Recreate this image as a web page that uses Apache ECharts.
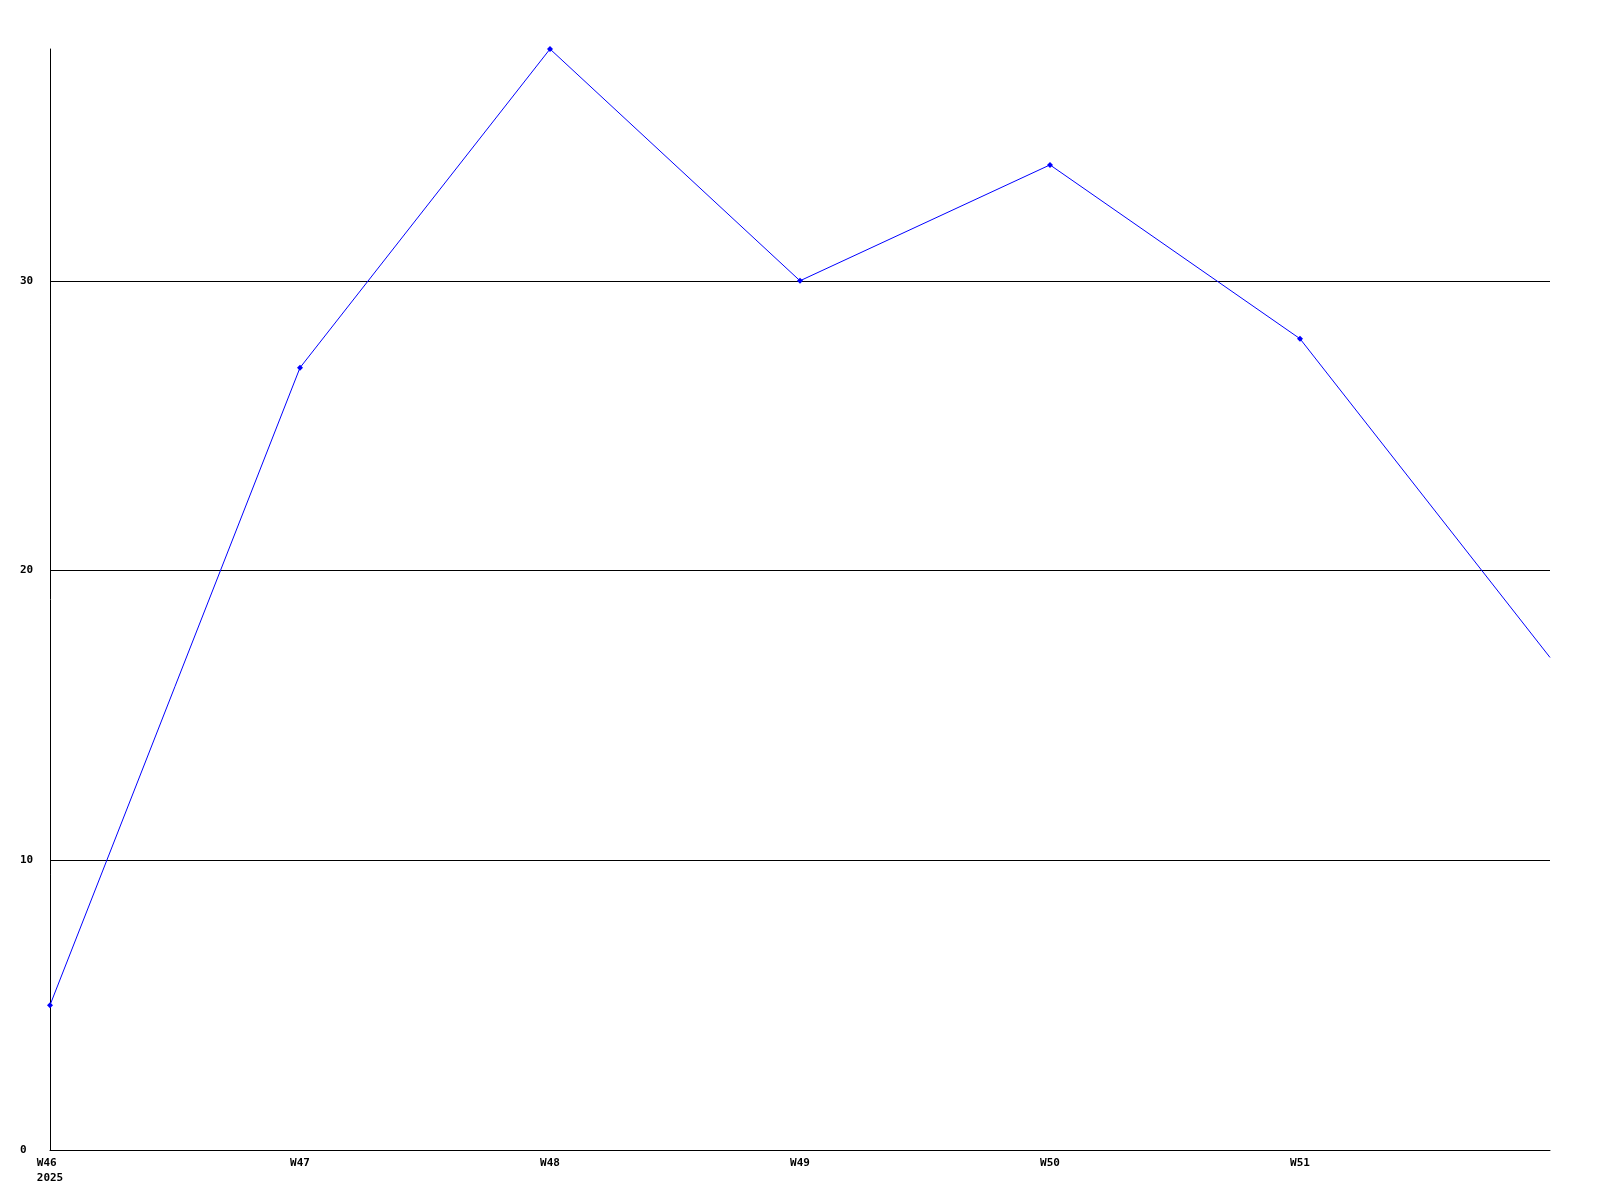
<!DOCTYPE html>
<html>
<head>
<meta charset="utf-8">
<script src="https://cdn.jsdelivr.net/npm/echarts@6/dist/echarts.min.js"></script>
<style>
  html, body { margin: 0; padding: 0; background: #fff; }
  #chart { width: 1600px; height: 1200px; }
</style>
</head>
<body>
<div id="chart"></div>
<script>
const weeks = ['W46', 'W47', 'W48', 'W49', 'W50', 'W51', 'W52']
const values = [5, 27, 38, 30, 34, 28, 17]
const yearLabel = '2025'

const chart = echarts.init(document.getElementById('chart'))
const lastIdx = weeks.length - 1
const font = 'DejaVu Sans Mono'

chart.setOption({
  backgroundColor: '#fff',
  animation: false,
  grid: {
    left: 50,
    right: 50,
    top: 49,
    bottom: 50
  },
  xAxis: {
    type: 'category',
    boundaryGap: false,
    data: weeks,
    axisLine: { lineStyle: { color: '#000', width: 1 } },
    axisTick: { show: false },
    axisLabel: {
      interval: 0,
      margin: 6,
      color: '#000',
      fontFamily: font,
      fontWeight: 'bold',
      fontSize: 11,
      lineHeight: 15,
      formatter: function(v, i) {
        if (i === lastIdx) return ''
        if (i === 0) return v + ' \n' + yearLabel
        return v
      }
    },
    splitLine: { show: false }
  },
  yAxis: {
    type: 'value',
    min: 0,
    max: 38,
    interval: 10,
    axisLine: { show: true, lineStyle: { color: '#000', width: 1 } },
    axisTick: { show: false },
    axisLabel: {
      align: 'left',
      margin: 30,
      color: '#000',
      fontFamily: font,
      fontWeight: 'bold',
      fontSize: 11,
      showMaxLabel: false
    },
    splitLine: {
      showMaxLine: false,
      lineStyle: { color: '#000', width: 1 }
    }
  },
  series: [{
    type: 'line',
    data: values,
    symbol: function(v, p) {
      return p.dataIndex === lastIdx ? 'none' : 'diamond'
    },
    symbolSize: 6,
    showAllSymbol: true,
    itemStyle: { color: '#0000ff' },
    lineStyle: { color: '#0000ff', width: 1 }
  }]
})
</script>
</body>
</html>
